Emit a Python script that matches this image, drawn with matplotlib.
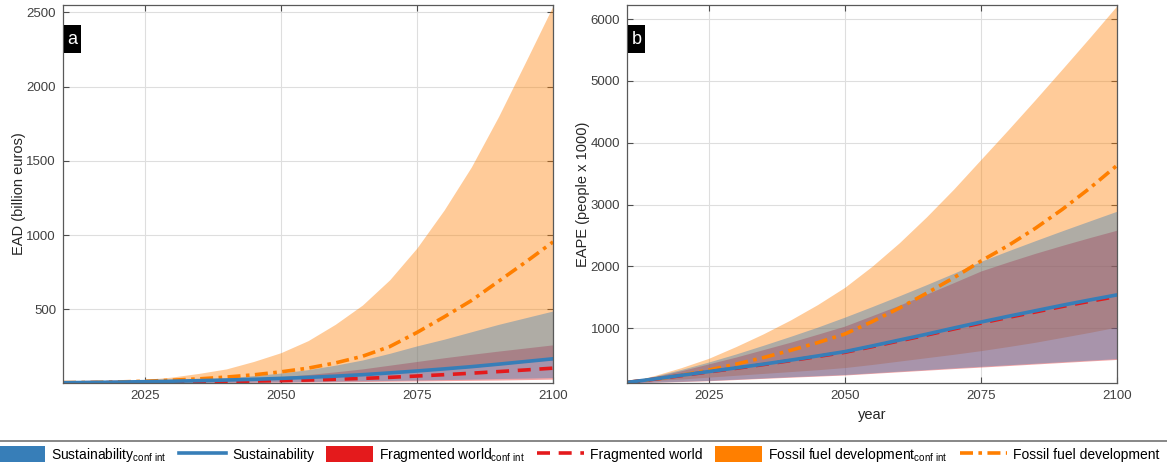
import numpy as np
import matplotlib
matplotlib.use('Agg')
import matplotlib.pyplot as plt
from matplotlib.patches import Patch, Rectangle
from matplotlib.lines import Line2D

plt.rcParams['font.family'] = ['Liberation Sans', 'DejaVu Sans']
plt.rcParams['mathtext.fontset'] = 'custom'
plt.rcParams['mathtext.rm'] = 'Liberation Sans'

years = np.arange(2010, 2101, 5)

# panel a: EAD (billion euros)
ead_sus = [7, 9, 11, 14, 17, 21, 25, 30, 36, 43, 51, 61, 73, 86, 100, 115, 132, 150, 168]
ead_sus_lo = [5, 5, 6, 7, 8, 9, 10, 12, 13, 15, 17, 20, 22, 25, 28, 31, 35, 38, 42]
ead_sus_hi = [8, 10, 13, 17, 22, 30, 40, 55, 72, 95, 125, 160, 205, 255, 300, 350, 400, 445, 490]
ead_frag = [6, 7, 8, 9, 11, 13, 15, 18, 21, 25, 30, 36, 43, 52, 61, 71, 82, 93, 105]
ead_frag_lo = [5, 5, 5, 6, 6, 7, 8, 9, 10, 11, 13, 15, 17, 19, 21, 23, 25, 28, 31]
ead_frag_hi = [8, 9, 11, 14, 18, 23, 29, 37, 47, 62, 80, 100, 125, 150, 175, 198, 220, 241, 262]
ead_ff = [8, 9, 12, 17, 24, 33, 45, 60, 80, 105, 140, 185, 250, 345, 450, 560, 690, 820, 955]
ead_ff_lo = [7, 8, 10, 13, 16, 20, 24, 29, 34, 41, 49, 58, 70, 82, 96, 110, 127, 145, 162]
ead_ff_hi = [10, 12, 18, 28, 45, 70, 100, 150, 209, 290, 400, 530, 700, 914, 1170, 1460, 1800, 2170, 2545]

# panel b: EAPE (people x 1000)
eape_sus = [120, 175, 235, 295, 355, 415, 480, 548, 618, 710, 805, 900, 1000, 1097, 1190, 1280, 1370, 1455, 1537]
eape_sus_lo = [112, 125, 138, 152, 172, 192, 212, 230, 248, 275, 302, 328, 355, 380, 405, 430, 455, 480, 505]
eape_sus_hi = [120, 220, 330, 450, 580, 720, 865, 1015, 1177, 1347, 1522, 1702, 1887, 2080, 2250, 2415, 2577, 2735, 2892]
eape_frag = [118, 172, 230, 290, 348, 408, 472, 539, 607, 698, 792, 886, 985, 1080, 1172, 1260, 1350, 1433, 1512]
eape_frag_lo = [110, 122, 134, 147, 166, 185, 204, 222, 240, 266, 292, 318, 344, 368, 393, 418, 443, 468, 492]
eape_frag_hi = [120, 210, 310, 420, 530, 650, 770, 900, 1032, 1200, 1370, 1550, 1735, 1924, 2070, 2210, 2340, 2465, 2585]
eape_ff = [120, 170, 235, 320, 415, 520, 638, 763, 903, 1103, 1323, 1563, 1813, 2085, 2335, 2615, 2925, 3265, 3634]
eape_ff_lo = [120, 150, 175, 205, 235, 265, 295, 325, 360, 410, 465, 520, 575, 634, 700, 770, 850, 930, 1016]
eape_ff_hi = [120, 230, 360, 510, 700, 905, 1130, 1380, 1660, 2000, 2380, 2800, 3250, 3730, 4210, 4700, 5200, 5705, 6220]

c_sus = '#377eb8'
c_frag = '#e41a1c'
c_ff = '#ff7f00'
dash_red = (0, (3.6, 2.4))
dash_ora = (0, (3.6, 1.5, 1.0, 1.5))

fig = plt.figure(figsize=(11.67, 4.68), dpi=100)
ax1 = fig.add_axes([0.054, 0.1816, 0.4199, 0.8077])
ax2 = fig.add_axes([0.5373, 0.1816, 0.4199, 0.8077])

panels = [
    (ax1, 'a', 'EAD (billion euros)', (5, 2550),
     (ead_sus, ead_sus_lo, ead_sus_hi), (ead_frag, ead_frag_lo, ead_frag_hi), (ead_ff, ead_ff_lo, ead_ff_hi),
     [500, 1000, 1500, 2000, 2500]),
    (ax2, 'b', 'EAPE (people x 1000)', (110, 6230),
     (eape_sus, eape_sus_lo, eape_sus_hi), (eape_frag, eape_frag_lo, eape_frag_hi), (eape_ff, eape_ff_lo, eape_ff_hi),
     [1000, 2000, 3000, 4000, 5000, 6000]),
]

for ax, tag, ylab, ylim, sus, frag, ff, yt in panels:
    # draw order: fossil, fragmented, sustainability
    ax.fill_between(years, ff[1], ff[2], color=c_ff, alpha=0.4, lw=0)
    ax.plot(years, ff[0], color=c_ff, lw=2.6, ls=dash_ora)
    ax.fill_between(years, frag[1], frag[2], color=c_frag, alpha=0.4, lw=0)
    ax.plot(years, frag[0], color=c_frag, lw=2.6, ls=dash_red)
    ax.fill_between(years, sus[1], sus[2], color=c_sus, alpha=0.4, lw=0)
    ax.plot(years, sus[0], color=c_sus, lw=2.6)
    ax.set_xlim(2010, 2100)
    ax.set_ylim(*ylim)
    ax.set_xticks([2025, 2050, 2075, 2100])
    ax.set_yticks(yt)
    ax.grid(True, color='0.87', lw=0.8)
    ax.set_axisbelow(True)
    ax.tick_params(direction='in', top=True, right=True, length=4, labelsize=9.5,
                   colors='0.3', labelcolor='0.25', pad=5)
    for s in ax.spines.values():
        s.set_color('0.35')
        s.set_linewidth(0.9)
    ax.set_ylabel(ylab, fontsize=10.5, color='0.15', labelpad=0)
    ax.add_patch(Rectangle((0.002, 0.873), 0.0347, 0.074, transform=ax.transAxes,
                           facecolor='black', edgecolor='none', zorder=10))
    ax.text(0.0195, 0.91, tag, transform=ax.transAxes, color='white', fontsize=13,
            ha='center', va='center', zorder=11)

ax2.set_xlabel('year', fontsize=10.5, color='0.15', labelpad=4)

handles = [
    Patch(facecolor=c_sus, edgecolor='none'),
    Line2D([0], [0], color=c_sus, lw=2.6),
    Patch(facecolor=c_frag, edgecolor='none'),
    Line2D([0], [0], color=c_frag, lw=2.6, ls=dash_red),
    Patch(facecolor=c_ff, edgecolor='none'),
    Line2D([0], [0], color=c_ff, lw=2.6, ls=dash_ora),
]
labels = [
    r'Sustainability$_{\mathrm{conf\ int}}$',
    'Sustainability',
    r'Fragmented world$_{\mathrm{conf\ int}}$',
    'Fragmented world',
    r'Fossil fuel development$_{\mathrm{conf\ int}}$',
    'Fossil fuel development',
]
fig.legend(handles, labels, loc='center left', bbox_to_anchor=(-0.002, 0.028), ncol=6,
           frameon=False, fontsize=10, handlelength=3.4, handleheight=1.4,
           handletextpad=0.45, columnspacing=0.85, borderpad=0, borderaxespad=0)
fig.add_artist(Line2D([0, 1], [0.0577, 0.0577], transform=fig.transFigure, color='0.45', lw=1.2))

fig.savefig('out.png', dpi=100)
